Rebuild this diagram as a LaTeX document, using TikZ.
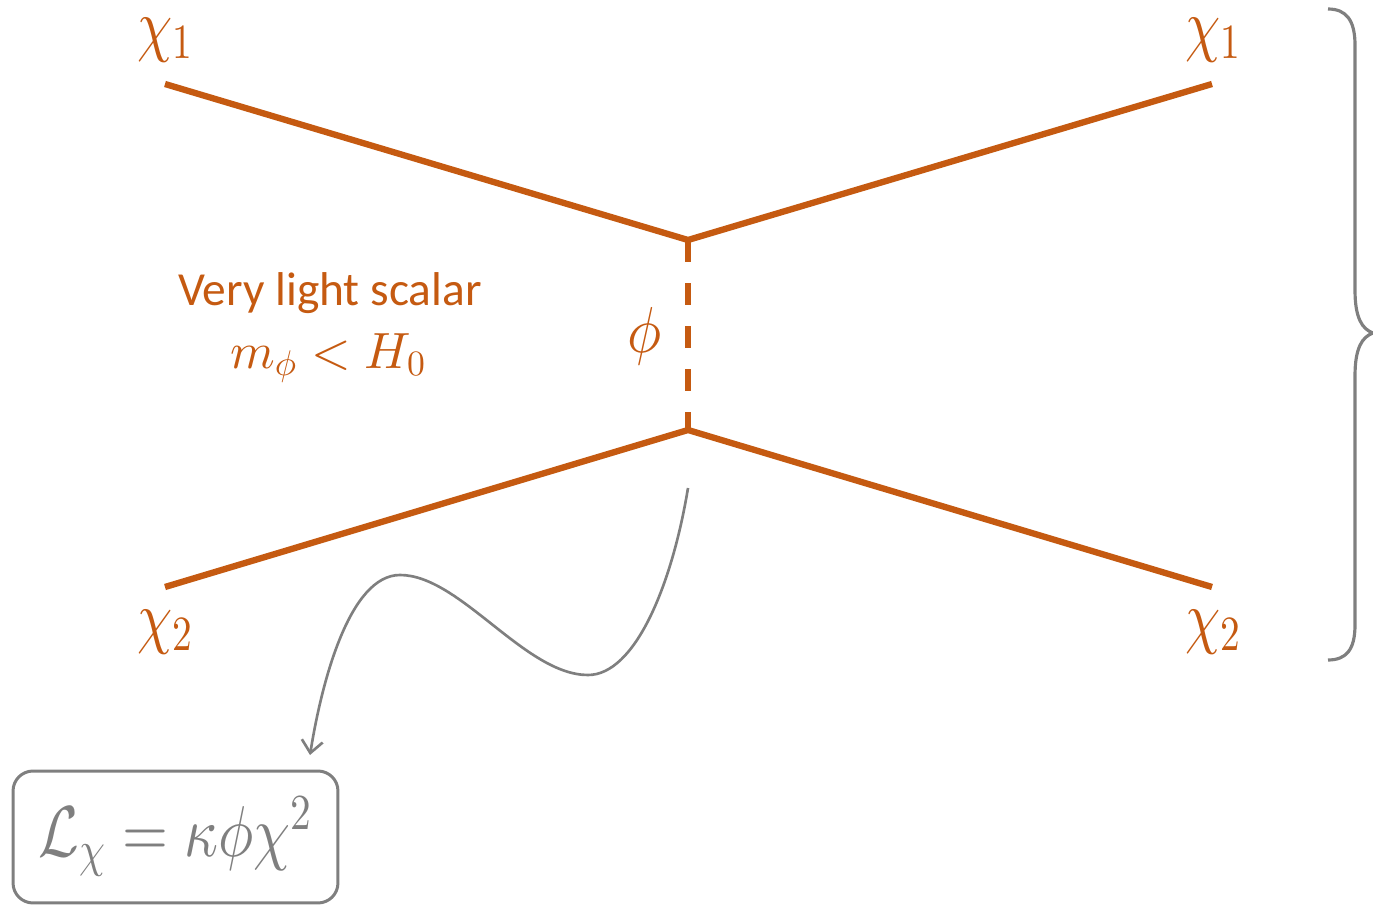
\documentclass[tikz,border=0pt]{standalone}
\usepackage{fontspec}
\usepackage{graphicx}
\newfontfamily\calib{Carlito}
\DeclareFontShape{OML}{cmm}{m}{it}{<->cmmi10}{}
\DeclareFontShape{OMS}{cmsy}{m}{n}{<->cmsy10}{}
\DeclareFontShape{OT1}{cmr}{m}{n}{<->cmr10}{}
\usetikzlibrary{arrows.meta}
\definecolor{orng}{HTML}{C55A11}
\definecolor{gry}{HTML}{7F7F7F}
\newcommand{\nx}[2]{\scalebox{#1}[1]{#2}}
\begin{document}
\begin{tikzpicture}[x=0.02cm,y=-0.02cm,
  fline/.style={orng,line width=3.6pt},
  sline/.style={orng,line width=3.8pt,dash pattern=on 12.5pt off 12pt},
  lab/.style={orng,inner sep=3pt,font=\fontsize{40}{48}\selectfont},
  txt/.style={orng,inner sep=2pt,font=\calib\fontsize{27}{32}\selectfont},
  mtxt/.style={orng,inner sep=2pt,font=\fontsize{29}{34}\selectfont},
  gline/.style={gry,line width=1.5pt},
  brace/.style={gry,line width=1.8pt},
  eqbox/.style={draw=gry,line width=1.7pt,rounded corners=0.4cm,minimum width=6.5cm,minimum height=2.64cm,inner sep=0pt,text=gry,font=\fontsize{41}{48}\selectfont}]
\useasboundingbox (0,0) rectangle (1373,905);
% vertices and ends
\coordinate (v1) at (688,240);
\coordinate (v2) at (688,430);
\coordinate (a) at (165,84);
\coordinate (b) at (1212,84);
\coordinate (c) at (165,587);
\coordinate (d) at (1212,587);
\draw[fline] (a) -- (v1) -- (b);
\draw[fline] (c) -- (v2) -- (d);
\draw[sline] (v1) -- (v2);
% labels
\node[lab] (la) at (165,40) {\nx{0.8}{$\chi_1$}};
\node[lab] (lb) at (1213,40) {\nx{0.8}{$\chi_1$}};
\node[lab] (lc) at (165,632) {\nx{0.8}{$\chi_2$}};
\node[lab] (ld) at (1213,632) {\nx{0.8}{$\chi_2$}};
\node[lab,font=\fontsize{37}{44}\selectfont] (phi) at (645,336) {\nx{0.88}{$\phi$}};
\node[txt] (vls) at (330,293) {Very light scalar};
\node[mtxt] (mass) at (328,358) {$m_\phi < H_0$};
% brace
\draw[brace] (1328,9) .. controls (1346,9) and (1355,20) .. (1355,45) -- (1355,290)
  .. controls (1355,318) and (1362,329) .. (1373,333)
  .. controls (1362,337) and (1355,348) .. (1355,376) -- (1355,625)
  .. controls (1355,650) and (1346,660) .. (1328,660);
% equation box
\node[eqbox] (eq) at (175.5,837) {\nx{0.82}{$\mathcal{L}_\chi = \kappa\phi\chi^2$}};
% curved arrow
\coordinate (cs) at (688,488);
\coordinate (ce) at (310,755);
\draw[gline,-{Straight Barb[length=7pt,width=12pt]}] (cs)
  .. controls (672,585) and (635,675) .. (588,675)
  .. controls (525,675) and (460,575) .. (400,575)
  .. controls (350,575) and (322,680) .. (ce);
\end{tikzpicture}
\end{document}
